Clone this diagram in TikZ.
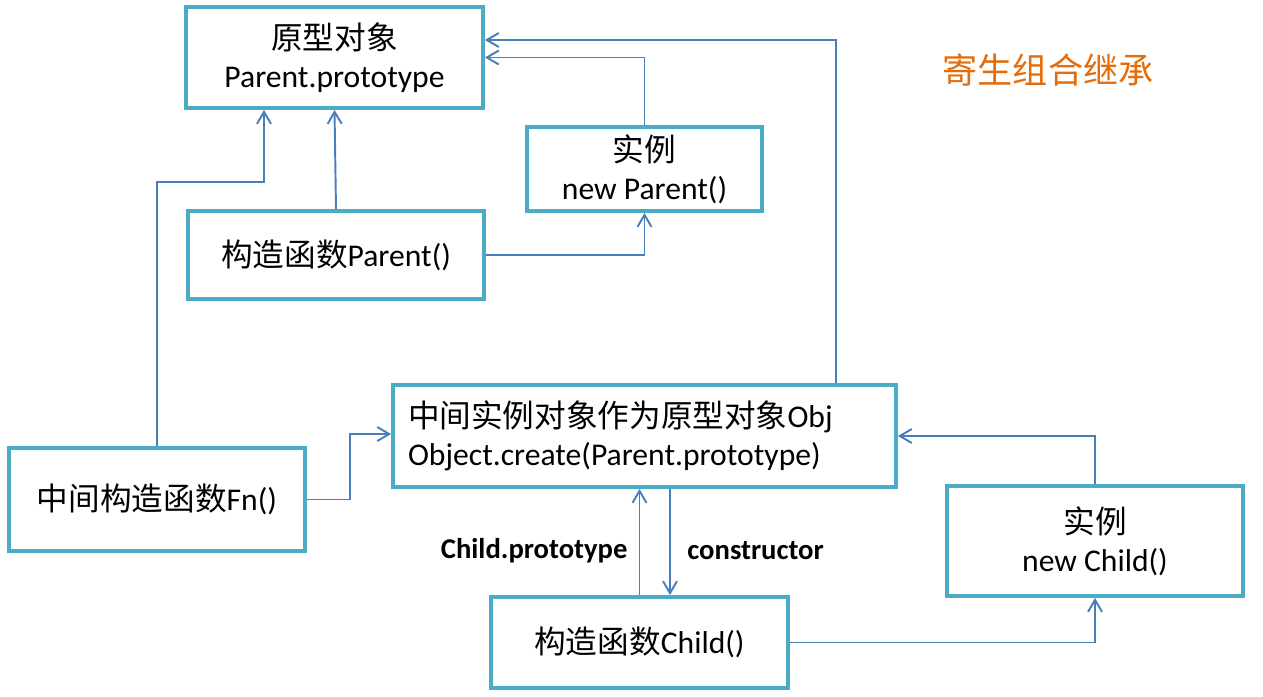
\documentclass[tikz,border=0pt]{standalone}
\usepackage{fontspec}
\setmainfont{Carlito}
\newfontfamily\zhfont{Noto Sans CJK SC}
\newcommand{\zh}[1]{{\zhfont #1}}
\usetikzlibrary{positioning,arrows.meta,calc}
\definecolor{ProtoFrame}{RGB}{75,172,198}
\definecolor{ProtoLink}{RGB}{74,126,187}
\definecolor{ProtoTitle}{RGB}{228,108,10}
\tikzset{
  proto box/.style={
    draw=ProtoFrame,
    line width=2.2pt,
    align=center,
    font=\fontsize{18pt}{21.6pt}\selectfont,
    inner sep=4pt
  },
  link arrow/.style={-{Straight Barb[length=2.4mm,width=2.8mm]}, line width=1.1pt, ProtoLink},
  link label/.style={font=\fontsize{16.3pt}{19pt}\selectfont\bfseries, text=black},
  title label/.style={font=\fontsize{20pt}{24pt}\selectfont, text=ProtoTitle}
}
\begin{document}
\begin{tikzpicture}[x=0.02cm,y=-0.02cm]
\useasboundingbox (0,0) rectangle (1263,696);
\node[title label] (title) at (1048,70) {\zh{寄生组合继承}};
\node[proto box, minimum width=5.94cm, minimum height=2.02cm] (proto) at (334.5,57.5) {\zh{原型对象}\\Parent.prototype};
\node[proto box, minimum width=4.7cm, minimum height=1.68cm] (pinst) at (644.5,169) {\zh{实例}\\new Parent()};
\node[proto box, minimum width=5.92cm, minimum height=1.76cm] (pctor) at (336,255) {\zh{构造函数}Parent()};
\node[proto box, text width=9.46cm, align=left, inner xsep=0.3cm, minimum height=2.04cm] (obj) at (644.5,436) {\zh{中间实例对象作为原型对象}Obj\\Object.create(Parent.prototype)};
\node[proto box, minimum width=5.92cm, minimum height=2.06cm] (fn) at (157,499.5) {\zh{中间构造函数}Fn()};
\node[proto box, minimum width=5.94cm, minimum height=1.82cm] (cctor) at (639.5,642.5) {\zh{构造函数}Child()};
\node[proto box, minimum width=5.92cm, minimum height=2.2cm] (cinst) at (1095,541) {\zh{实例}\\new Child()};
% bend points
\coordinate (fnbend) at (264,182);
\coordinate (objup) at (836,40);
\coordinate (fnmid) at (350,434);
\coordinate (back) at (670,0);
\draw[link arrow] (pctor.north) -- (proto.south);
\draw[link arrow] (fn.north) |- (fnbend) -- (fnbend |- proto.south);
\draw[link arrow] (pctor.east) -| (pinst.south);
\draw[link arrow] (pinst.north) |- (proto.east);
\draw[link arrow] (objup |- obj.north) -- (objup) -- (objup -| proto.east);
\draw[link arrow] (fn.east) -| (fnmid) -- (fnmid -| obj.west);
\draw[link arrow] (cctor.north) -- (cctor.north |- obj.south) node[link label, midway, left=3pt, yshift=-0.18cm] {Child.prototype};
\draw[link arrow] (obj.south -| back) -- (cctor.north -| back) node[link label, midway, right=6pt, yshift=-0.18cm] {constructor};
\draw[link arrow] (cctor.east) -| (cinst.south);
\draw[link arrow] (cinst.north) |- (obj.east);
\end{tikzpicture}
\end{document}
